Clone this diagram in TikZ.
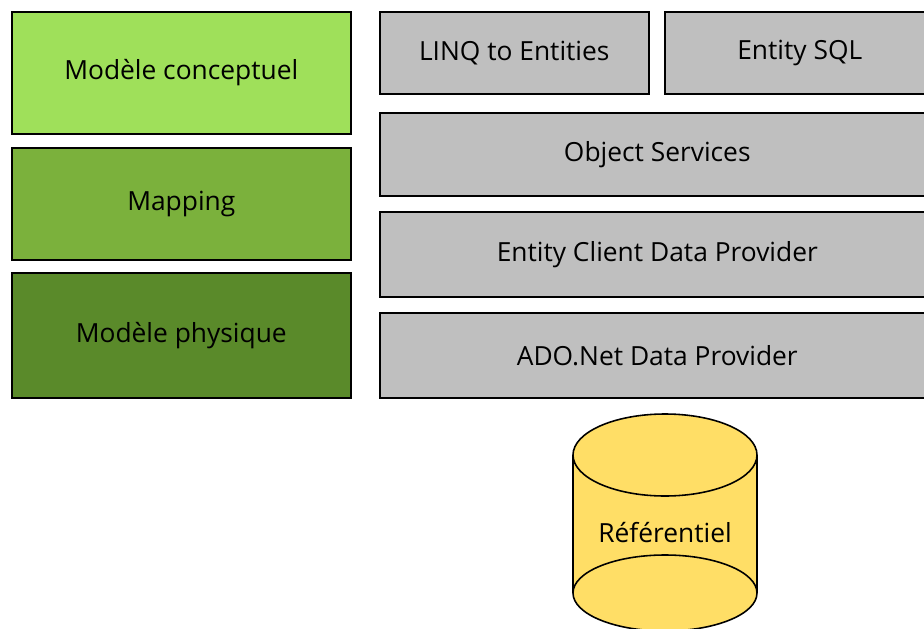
\documentclass[tikz,border=0pt]{standalone}
\usepackage{fontspec}
\setmainfont{Open Sans}
\usepackage{tikz}
\usetikzlibrary{positioning}
\definecolor{vertclair}{HTML}{9FE05A}
\definecolor{vertmoyen}{HTML}{7BB13C}
\definecolor{vertfonce}{HTML}{5A8A2A}
\definecolor{grisbloc}{HTML}{BFBFBF}
\definecolor{jaunebase}{HTML}{FFDE66}
\tikzset{
	bloc/.style={draw=black, line width=0.9pt, inner sep=0pt, anchor=north west,
		font=\fontsize{15}{17}\selectfont},
	couche/.style={bloc, fill=grisbloc},
}

\begin{document}
\begin{tikzpicture}[x=0.02cm, y=-0.02cm]
		\clip (0,0) rectangle (924,629);
		% modeles
		\node[bloc, fill=vertclair, minimum width=339*0.02cm, minimum height=122*0.02cm] (conceptuel) at (11,11) {Modèle conceptuel};
		\node[bloc, fill=vertmoyen, minimum width=339*0.02cm, minimum height=112*0.02cm] (mapping) at (11,147) {Mapping};
		\node[bloc, fill=vertfonce, minimum width=339*0.02cm, minimum height=125*0.02cm] (physique) at (11,272) {Modèle physique};
		% couches
		\node[couche, minimum width=269*0.02cm, minimum height=82*0.02cm] (linq) at (379,11) {LINQ to Entities};
		\node[couche, minimum width=270*0.02cm, minimum height=82*0.02cm] (esql) at (664,11) {Entity SQL};
		\node[couche, minimum width=555*0.02cm, minimum height=83*0.02cm] (services) at (379,112) {Object Services};
		\node[couche, minimum width=555*0.02cm, minimum height=85*0.02cm] (client) at (379,211) {Entity Client Data Provider};
		\node[couche, minimum width=555*0.02cm, minimum height=85*0.02cm] (ado) at (379,312) {ADO.Net Data Provider};
		% referentiel
		\fill[jaunebase] (573,455) rectangle (757,593);
		\draw[line width=0.9pt, fill=jaunebase] (665,593) ellipse [x radius=92, y radius=38];
		\draw[line width=0.9pt] (573,455) -- (573,593) (757,455) -- (757,593);
		\draw[line width=0.9pt, fill=jaunebase] (665,455) ellipse [x radius=92, y radius=41];
		\node[font=\fontsize{15}{17}\selectfont] (referentiel) at (665,533) {Référentiel};
	\end{tikzpicture}
\end{document}
